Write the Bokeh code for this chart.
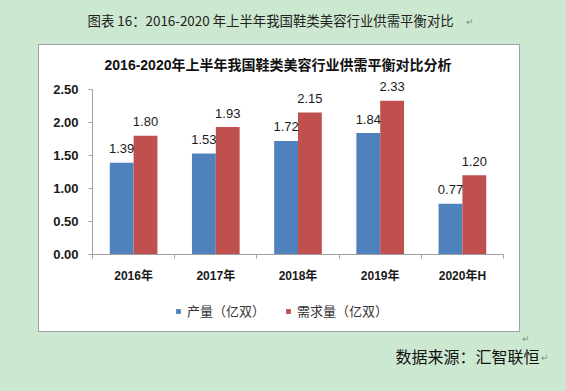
from bokeh.plotting import figure
from bokeh.layouts import column
from bokeh.models import (ColumnDataSource, FixedTicker, NumeralTickFormatter, Label,
                          LabelSet, Legend, LegendItem, Range1d)
from bokeh.core.properties import value
from bokeh.embed import file_html
from bokeh.resources import INLINE

categories = ["2016年", "2017年", "2018年", "2019年", "2020年H"]
production = [1.39, 1.53, 1.72, 1.84, 0.77]
demand = [1.80, 1.93, 2.15, 2.33, 1.20]
series_names = ["产量（亿双）", "需求量（亿双）"]
y_ticks = [0, 0.5, 1.0, 1.5, 2.0, 2.5]
page_title = "图表 16：2016-2020 年上半年我国鞋类美容行业供需平衡对比"
chart_title = "2016-2020年上半年我国鞋类美容行业供需平衡对比分析"
source_text = "数据来源：汇智联恒"

BG = "#cde8d0"
BLUE = "#4f81bd"
RED = "#c0504d"
LAT = "Liberation Sans, Noto Sans CJK SC"
CJK = "Noto Sans CJK SC"


def blank_fig(w, h, fill):
    f = figure(width=w, height=h, title=None, output_backend="svg", toolbar_location=None,
               x_range=Range1d(0, 1), y_range=Range1d(0, 1),
               x_axis_location=None, y_axis_location=None, min_border=0)
    f.grid.visible = False
    f.outline_line_color = None
    f.border_fill_color = fill
    f.background_fill_color = fill
    return f


def add_label(f, x, y, text, size, style="normal", color="#1a1a1a", align="left", font=CJK):
    f.add_layout(Label(x=x, y=y, x_units="screen", y_units="screen", text=text,
                       text_font=font, text_font_size=size, text_font_style=style,
                       text_color=color, text_align=align, text_baseline="middle"))


# ---------- header (page title): page y 0..44 ----------
head = blank_fig(566, 44, BG)
add_label(head, 87, 24.5, page_title, "13.4px", color="#222222")
add_label(head, 465, 23.5, "↵", "9px", color="#888888")

# ---------- main chart (white box content: page x 39..519, y 45..290) ----------
n = len(categories)
centers = [i + 0.5 for i in range(n)]
bw = 0.29
src = ColumnDataSource(dict(
    xb=[c - bw / 2 for c in centers],
    xr=[c + bw / 2 for c in centers],
    prod=production,
    dem=demand,
    prod_lbl=["%.2f" % v for v in production],
    dem_lbl=["%.2f" % v for v in demand],
))

FW, FH = 427, 209
x_end = n * FW / 411.0
y_end = 2.5 * FH / 165.0

p = figure(frame_width=FW, frame_height=FH, title=None,
           output_backend="svg", toolbar_location=None,
           x_range=Range1d(0, x_end), y_range=Range1d(0, y_end),
           min_border_left=53, min_border_right=0, min_border_top=0, min_border_bottom=36)
p.border_fill_color = "white"
p.background_fill_color = "white"
p.outline_line_color = None
p.xgrid.visible = False
p.ygrid.visible = False

p.vbar(x="xb", top="prod", width=bw, bottom=0, source=src, fill_color=BLUE, line_color=None)
p.vbar(x="xr", top="dem", width=bw, bottom=0, source=src, fill_color=RED, line_color=None)

for col, xcol, ycol in (("prod_lbl", "xb", "prod"), ("dem_lbl", "xr", "dem")):
    p.add_layout(LabelSet(x=xcol, y=ycol, text=col, source=src, text_align="center",
                          text_baseline="middle", y_offset=14,
                          text_font=value(LAT), text_font_size=value("13px"),
                          text_color=value("#1a1a1a")))

ya = p.yaxis[0]
ya.ticker = FixedTicker(ticks=y_ticks)
ya.formatter = NumeralTickFormatter(format="0.00")
ya.bounds = (0, 2.5)
ya.axis_line_color = "#a0a0a0"
ya.major_tick_line_color = "#a0a0a0"
ya.major_tick_in = 0
ya.major_tick_out = 4
ya.minor_tick_line_color = None
ya.major_label_text_font = LAT
ya.major_label_text_font_size = "13px"
ya.major_label_text_font_style = "bold"
ya.major_label_text_color = "#1a1a1a"
ya.major_label_standoff = 10

xa = p.xaxis[0]
xa.ticker = FixedTicker(ticks=centers, minor_ticks=list(range(n + 1)))
xa.major_label_overrides = {c: lab for c, lab in zip(centers, categories)}
xa.bounds = (0, n)
xa.axis_line_color = "#a0a0a0"
xa.major_tick_line_color = None
xa.major_tick_in = 0
xa.major_tick_out = 0
xa.minor_tick_line_color = "#a0a0a0"
xa.minor_tick_in = 0
xa.minor_tick_out = 4
xa.major_label_text_font = LAT
xa.major_label_text_font_size = "12px"
xa.major_label_text_font_style = "bold"
xa.major_label_text_color = "#1a1a1a"
xa.major_label_standoff = 10

# chart title inside the frame (frame origin: page x 92, page y 254)
add_label(p, 185.5, 190, chart_title, "14px", style="bold", color="#111111",
          align="center", font=LAT)

# ---------- legend strip (page y 290..331), frame origin page x 92 ----------
leg = figure(frame_width=FW, frame_height=41, title=None,
             output_backend="svg", toolbar_location=None,
             x_range=Range1d(0, x_end), y_range=Range1d(50, 51),
             x_axis_location=None, y_axis_location=None,
             min_border_left=53, min_border_right=0, min_border_top=0, min_border_bottom=0)
leg.grid.visible = False
leg.outline_line_color = None
leg.border_fill_color = "white"
leg.background_fill_color = "white"
# legend proxies: same data, lying entirely outside this strip's y range
lr1 = leg.vbar(x="xb", top="prod", width=bw, bottom=0, source=src, fill_color=BLUE, line_color=None)
lr2 = leg.vbar(x="xr", top="dem", width=bw, bottom=0, source=src, fill_color=RED, line_color=None)
legend = Legend(items=[LegendItem(label=series_names[0], renderers=[lr1]),
                       LegendItem(label=series_names[1], renderers=[lr2])],
                orientation="horizontal", location=(83, 11),
                glyph_width=6, glyph_height=6, label_standoff=6, spacing=20,
                padding=0, margin=0, border_line_color=None,
                background_fill_alpha=0,
                label_text_font=CJK, label_text_font_size="13px",
                label_text_color="#333333", label_height=16)
leg.add_layout(legend, "center")

box = column(p, leg, spacing=0, margin=(0, 0, 0, 38),
             styles={"border": "1px solid #a0a0a0", "background-color": "white"})

# ---------- footer (source): page y 332..391 ----------
foot = blank_fig(566, 59, BG)
add_label(foot, 395, 36, source_text, "16px", color="#111111")
add_label(foot, 540, 34, "↵", "9px", color="#888888")
add_label(foot, 521, 53, "↵", "9px", color="#888888")

layout = column(head, box, foot, spacing=0)

html = file_html(layout, INLINE)
html = html.replace("</head>",
                    "<style>html,body{background:%s;margin:0;padding:0;}</style></head>" % BG, 1)
open("out.html", "w").write(html)
